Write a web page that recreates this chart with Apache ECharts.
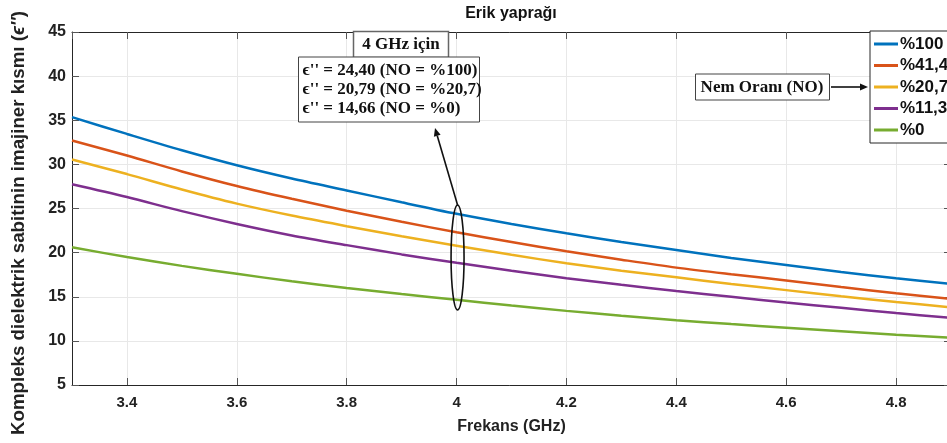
<!DOCTYPE html>
<html><head><meta charset="utf-8">
<script src="https://cdn.jsdelivr.net/npm/echarts@6/dist/echarts.min.js"></script>
<style>html,body{margin:0;padding:0;background:#fff}#c{width:947px;height:443px}</style>
</head><body><div id="c"></div>
<script>
// ---- data ----
const freq = [3.3,3.4,3.5,3.6,3.7,3.8,3.9,4.0,4.1,4.2,4.3,4.4,4.5,4.6,4.7,4.8,4.9];
const no100 = [35.35,33.45,31.6,29.9,28.4,27.05,25.7,24.4,23.25,22.2,21.2,20.3,19.4,18.6,17.8,17.1,16.45];
const no41 = [32.7,31.0,29.2,27.55,26.1,24.75,23.5,22.3,21.2,20.15,19.2,18.3,17.55,16.85,16.1,15.4,14.75];
const no20 = [30.55,28.9,27.15,25.55,24.2,23.0,21.85,20.79,19.75,18.8,17.95,17.2,16.45,15.75,15.05,14.4,13.8];
const no11 = [27.75,26.3,24.7,23.25,21.95,20.85,19.8,18.85,17.95,17.1,16.35,15.65,15.0,14.35,13.75,13.15,12.6];
const no0 = [20.6,19.5,18.5,17.6,16.75,16.0,15.3,14.66,14.0,13.4,12.85,12.35,11.9,11.5,11.1,10.7,10.35];
const seriesNames = ['%100','%41,4','%20,7','%11,3','%0'];
const seriesColors = ['#0072BD','#D95319','#EDB120','#7E2F8E','#77AC30'];
const xRange = [3.3, 4.9];
const yRange = [5, 45];
const yInterval = 5;
const titleText = 'Erik yaprağı';
const xName = 'Frekans (GHz)';
const yName = "Kompleks dielektrik sabitinin imajiner kısmı ({i|ϵ''})";
const boxTitle = '4 GHz için';
const boxLines = ["ϵ'' = 24,40 (NO = %100)", "ϵ'' = 20,79 (NO = %20,7)", "ϵ'' = 14,66 (NO = %0)"];
const noLabel = 'Nem Oranı (NO)';
const markFreq = 4;
const markRange = [13.5, 25.4];

(function () {
const allSeries = [no100, no41, no20, no11, no0];
const AX = '#262626';
const SANS = '"Liberation Sans", Arial, sans-serif';
const SERIF = '"Liberation Serif", "Times New Roman", serif';

const chart = echarts.init(document.getElementById('c'));

function xAxisBase(pos, showLabel) {
  return {
    type: 'value', position: pos, min: xRange[0], max: xRange[1], splitNumber: 8,
    axisLine: {show: true, onZero: false, lineStyle: {color: AX, width: 1}},
    axisTick: {show: true, inside: true, length: 7, lineStyle: {color: '#555'}},
    axisLabel: {show: showLabel, showMinLabel: false, showMaxLabel: false, margin: 10,
      fontFamily: SANS, fontWeight: 'bold', fontSize: 15, color: '#222'},
    splitLine: {show: showLabel, lineStyle: {color: '#e8e8e8', width: 1}}
  };
}
function yAxisBase(pos, showLabel) {
  return {
    type: 'value', position: pos, min: yRange[0], max: yRange[1], interval: yInterval,
    axisLine: {show: true, onZero: false, lineStyle: {color: AX, width: 1}},
    axisTick: {show: true, inside: true, length: 7, lineStyle: {color: '#555'}},
    axisLabel: {show: showLabel, margin: 6, fontFamily: SANS, fontWeight: 'bold', fontSize: 16, color: '#222'},
    splitLine: {show: showLabel, lineStyle: {color: '#e8e8e8', width: 1}}
  };
}

const xa = xAxisBase('bottom', true);
xa.name = xName; xa.nameLocation = 'middle'; xa.nameGap = 34;
xa.nameTextStyle = {fontFamily: SANS, fontWeight: 'bold', fontSize: 16, color: '#222'};
const ya = yAxisBase('left', true);
ya.name = yName; ya.nameLocation = 'middle'; ya.nameGap = 44;
ya.nameTextStyle = {fontFamily: SANS, fontWeight: 'bold', fontSize: 18.7, color: '#222', padding: [0, 29, 0, 0],
  rich: {i: {fontFamily: SANS, fontWeight: 'bold', fontStyle: 'italic', fontSize: 18.7, color: '#222'}}};

chart.setOption({
  animation: false,
  backgroundColor: '#fff',
  grid: {left: 72, right: -4, top: 32, bottom: 58, containLabel: false, outerBoundsMode: 'none'},
  xAxis: [xa, xAxisBase('top', false)],
  yAxis: [ya, yAxisBase('right', false)],
  legend: {
    orient: 'vertical', left: 870, top: 31, padding: [3, 4, 3, 4], itemGap: 1.5,
    itemWidth: 24, itemHeight: 3, icon: 'rect', itemStyle: {borderWidth: 0},
    backgroundColor: '#fff', borderColor: AX, borderWidth: 1, z: 10,
    textStyle: {fontFamily: SANS, fontWeight: 'bold', fontSize: 17, lineHeight: 20, color: '#111', padding: [0,0,0,-3]},
    data: seriesNames
  },
  series: allSeries.map((vals, i) => ({
    name: seriesNames[i], type: 'line', xAxisIndex: 0, yAxisIndex: 0,
    data: freq.map((f, j) => [f, vals[j]]),
    showSymbol: false, smooth: 0.3, color: seriesColors[i],
    lineStyle: {width: 2.5, color: seriesColors[i]}, z: 3
  }))
});

// annotations
const pTop = chart.convertToPixel({xAxisIndex: 0, yAxisIndex: 0}, [markFreq, markRange[1]]);
const pBot = chart.convertToPixel({xAxisIndex: 0, yAxisIndex: 0}, [markFreq, markRange[0]]);
const ecx = pTop[0] + 1, ecy = (pTop[1] + pBot[1]) / 2, ery = (pBot[1] - pTop[1]) / 2;
const tip = [435, 128];
const dx = ecx - tip[0], dy = pTop[1] - tip[1];
const L = Math.hypot(dx, dy), ux = dx / L, uy = dy / L;
const bc = [tip[0] + 8 * ux, tip[1] + 8 * uy];
const px = -uy * 3.5, py = ux * 3.5;

const graphics = [
  {type: 'text', x: 511, y: 13.5, z: 20, style: {text: titleText, font: 'bold 16px ' + SANS, fill: '#111', align: 'center', verticalAlign: 'middle'}},
  {type: 'ellipse', shape: {cx: ecx, cy: ecy, rx: 6.5, ry: ery}, z: 20, style: {fill: 'none', stroke: '#111', lineWidth: 1.6}},
  {type: 'line', shape: {x1: ecx, y1: pTop[1], x2: bc[0], y2: bc[1]}, z: 20, style: {stroke: '#111', lineWidth: 1.6}},
  {type: 'polygon', shape: {points: [tip, [bc[0] + px, bc[1] + py], [bc[0] - px, bc[1] - py]]}, z: 20, style: {fill: '#111'}},
  {type: 'rect', shape: {x: 353.5, y: 31.5, width: 95, height: 26}, z: 20, style: {fill: '#fff', stroke: '#666', lineWidth: 1.5}},
  {type: 'text', x: 401, y: 45, z: 21, style: {text: boxTitle, font: 'bold 17px ' + SERIF, fill: '#111', align: 'center', verticalAlign: 'middle'}},
  {type: 'rect', shape: {x: 298.5, y: 57, width: 181, height: 65}, z: 22, style: {fill: '#fff', stroke: '#444', lineWidth: 1}},
  {type: 'rect', shape: {x: 695.5, y: 74, width: 134, height: 26}, z: 20, style: {fill: '#fff', stroke: '#444', lineWidth: 1}},
  {type: 'text', x: 762, y: 87.5, z: 21, style: {text: noLabel, font: 'bold 17px ' + SERIF, fill: '#111', align: 'center', verticalAlign: 'middle'}},
  {type: 'line', shape: {x1: 831, y1: 87, x2: 861, y2: 87}, z: 20, style: {stroke: '#111', lineWidth: 1.6}},
  {type: 'polygon', shape: {points: [[868, 87], [860, 83.5], [860, 90.5]]}, z: 20, style: {fill: '#111'}}
];
boxLines.forEach((t, k) => graphics.push({type: 'text', x: 302.5, y: 70.5 + k * 19, z: 23,
  style: {text: t, font: 'bold 17px ' + SERIF, fill: '#111', align: 'left', verticalAlign: 'middle'}}));
chart.setOption({graphic: graphics});
})();
</script></body></html>
